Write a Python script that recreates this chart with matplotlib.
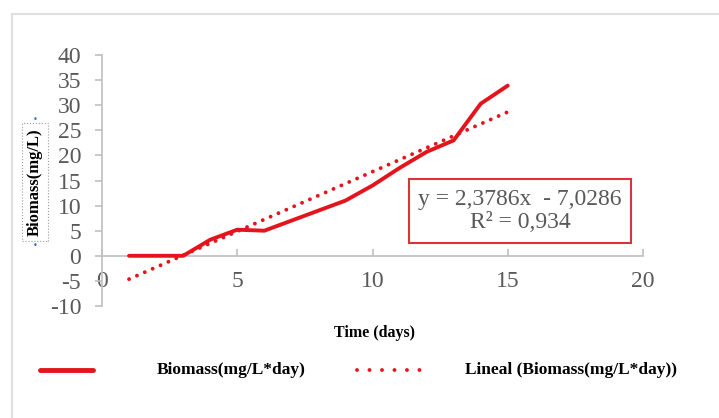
import matplotlib.pyplot as plt
import numpy as np

# data
days = [1, 2, 3, 4, 5, 6, 7, 8, 9, 10, 11, 12, 13, 14, 15]
biomass = [0, 0, 0, 3.2, 5.2, 5, 7, 9, 11, 14, 17.5, 20.7, 23, 30.3, 33.9]
slope = 2.3786
intercept = -7.0286
eq_text = 'y = 2,3786x  - 7,0286\nR² = 0,934'
xticks = [0, 5, 10, 15, 20]
yticks = [-10, -5, 0, 5, 10, 15, 20, 25, 30, 35, 40]

red = '#e3141b'
grey_txt = '#595959'
axis_col = '#bfbfbf'
serif = 'Liberation Serif'

fig = plt.figure(figsize=(7.19, 4.18), dpi=100)
ax = fig.add_axes([102/719, 1-306/418, 541/719, 251/418])

trend = [slope*d + intercept for d in days]
ax.plot(days, biomass, c=red, lw=2.8, solid_capstyle='round', solid_joinstyle='round', zorder=3)
ax.plot(days, trend, c=red, lw=2.8, ls=(0, (0.01, 2.2)), dash_capstyle='round', zorder=3)

ax.spines['top'].set_visible(False)
ax.spines['right'].set_visible(False)
ax.spines['bottom'].set_position(('data', 0))
for s in ['left', 'bottom']:
    ax.spines[s].set_color(axis_col)
    ax.spines[s].set_linewidth(1.2)

ax.set_xlim(0, 20)
ax.set_ylim(-10, 40)
ax.set_xticks(xticks)
ax.set_yticks(yticks)
ax.set_xticklabels([str(t) for t in xticks], fontfamily=serif, fontsize=17, color=grey_txt)
ax.set_yticklabels([str(t) for t in yticks], fontfamily=serif, fontsize=17, color=grey_txt)
ax.tick_params(axis='y', direction='out', length=5, width=1.2, color=axis_col, pad=10)
ax.tick_params(axis='x', direction='in', length=5, width=1.2, color=axis_col, pad=11)
ax.patch.set_alpha(0)

ax.set_xlabel('Time (days)', fontfamily=serif, fontweight='bold', fontsize=11.5)
ax.xaxis.set_label_coords((375-102)/541, -0.076)

fig.text(35/719, 1-182/418, 'Biomass(mg/L)', rotation=90, ha='center', va='center',
         fontfamily=serif, fontweight='bold', fontsize=12,
         bbox=dict(boxstyle='square,pad=0.3', fc='white', ec='#999999', ls=':', lw=0.8))
fig.text(35/719, 1-119/418, '•', color='#2a6fd6', ha='center', va='center', fontsize=6)
fig.text(35/719, 1-246/418, '•', color='#2a6fd6', ha='center', va='center', fontsize=6)

ax.text((520-102)/541, (306-211)/251, eq_text, transform=ax.transAxes, ha='center', va='center',
        fontfamily=serif, fontsize=17, color=grey_txt, linespacing=1.15, zorder=4,
        bbox=dict(boxstyle='square,pad=0.4', fc='white', ec='#d8343a', lw=1.5))

# outer chart frame (left and top edges visible)
fig.add_artist(plt.Line2D([12/719, 12/719], [0, 1-14/418], color='#e0e0e0', lw=1.5))
fig.add_artist(plt.Line2D([12/719, 1], [1-14/418, 1-14/418], color='#e0e0e0', lw=1.5))

# legend
ly = 1 - 370/418
fig.add_artist(plt.Line2D([40/719, 93/719], [ly, ly], color=red, lw=3.5, solid_capstyle='round'))
fig.text(157/719, ly, 'Biomass(mg/L*day)', ha='left', va='center',
         fontfamily=serif, fontweight='bold', fontsize=12.5)
fig.add_artist(plt.Line2D([357/719, 425/719], [ly, ly], color=red, lw=2.8,
                          ls=(0, (0.01, 3.2)), dash_capstyle='round'))
fig.text(465/719, ly, 'Lineal (Biomass(mg/L*day))', ha='left', va='center',
         fontfamily=serif, fontweight='bold', fontsize=12.5)

fig.savefig('out.png', dpi=100)
